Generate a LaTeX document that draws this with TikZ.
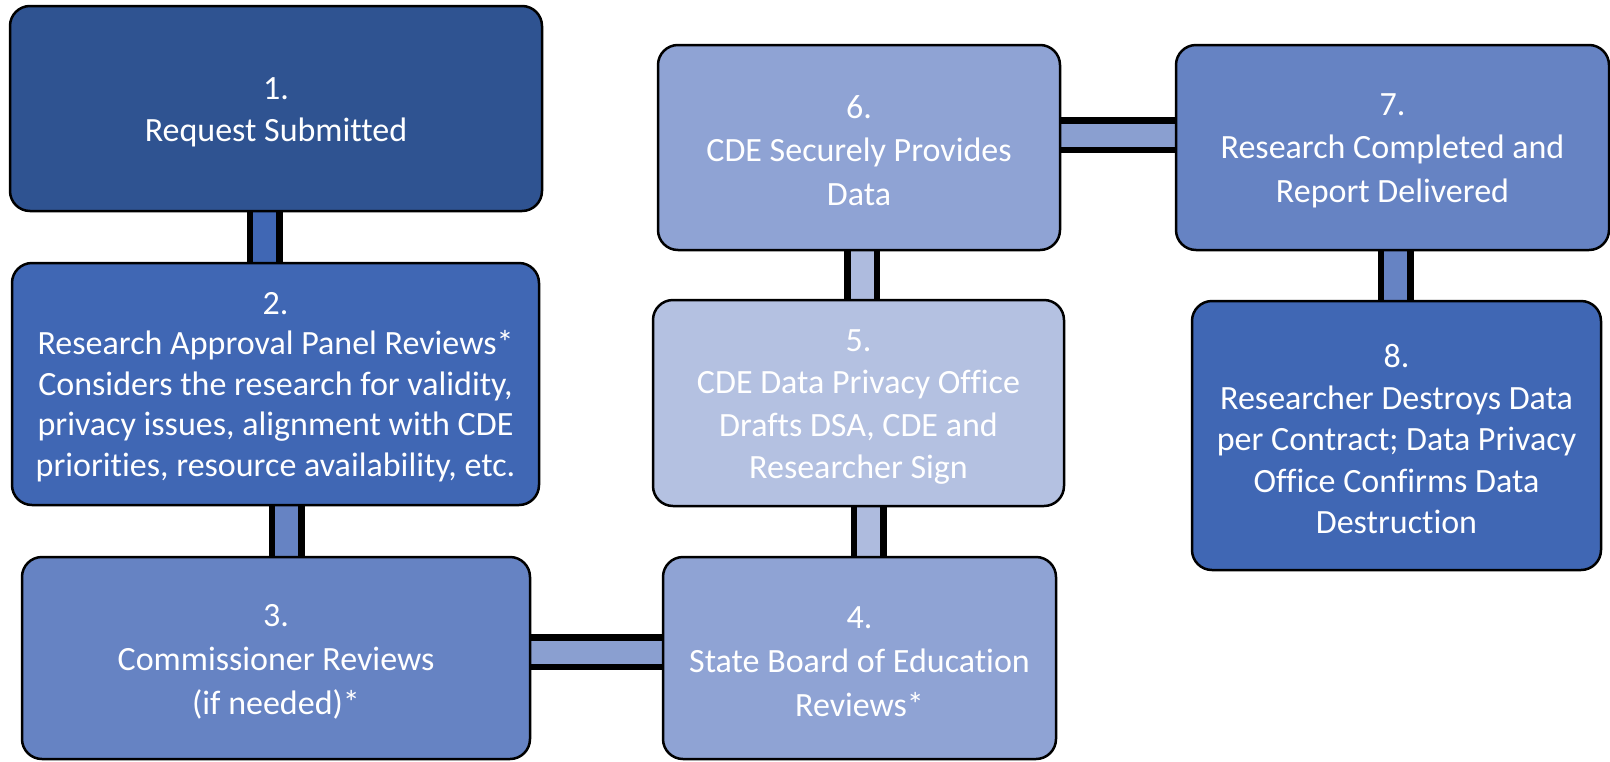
\documentclass[tikz,border=0pt]{standalone}
\usepackage{fontspec}
\setmainfont{Carlito}[Ligatures=NoCommon]
\usetikzlibrary{backgrounds}
\definecolor{cA}{HTML}{2F5391}
\definecolor{cB}{HTML}{4067B4}
\definecolor{cC}{HTML}{6683C3}
\definecolor{cD}{HTML}{8FA3D4}
\definecolor{cE}{HTML}{B4C1E1}
\definecolor{cDc}{HTML}{8A9FD0}
\definecolor{cEc}{HTML}{AEBBDE}
\tikzset{
  box/.style={draw=black, line width=2.5pt, rounded corners=20pt, fill=#1, inner sep=0pt},
  txt/.style={text=white, align=center, inner sep=0pt,
    font=\fontsize{34}{42.5}\selectfont},
  conn/.style={line width=6.5pt, double=#1, double distance=23pt, line cap=butt}
}
\begin{document}
\begin{tikzpicture}[x=1pt, y=-1pt]
\useasboundingbox (0,0) rectangle (1610,761);
\node[box=cA, minimum width=532pt, minimum height=205pt] (b1) at (276,108.5) {};
\node[box=cB, minimum width=527pt, minimum height=242pt] (b2) at (275.5,384) {};
\node[box=cC, minimum width=508pt, minimum height=202pt] (b3) at (276,658) {};
\node[box=cD, minimum width=393pt, minimum height=202pt] (b4) at (859.5,658) {};
\node[box=cE, minimum width=411pt, minimum height=206pt] (b5) at (858.5,403) {};
\node[box=cD, minimum width=402pt, minimum height=205pt] (b6) at (859,147.5) {};
\node[box=cC, minimum width=433pt, minimum height=205pt] (b7) at (1392.5,147.5) {};
\node[box=cB, minimum width=409pt, minimum height=269pt] (b8) at (1396.5,435.5) {};
\node[txt] (t1) at ([yshift=-4pt]b1.center) {1.\\Request Submitted};
\node[txt, font=\fontsize{34}{40.5}\selectfont] (t2) at ([yshift=-3pt]b2.center) {2.\\Research Approval Panel Reviews*\\Considers the research for validity,\\privacy issues, alignment with CDE\\priorities, resource availability, etc.};
\node[txt, font=\fontsize{34}{44}\selectfont] (t3) at ([yshift=-4pt]b3.center) {3.\\Commissioner Reviews\\(if needed)*};
\node[txt, font=\fontsize{34}{44}\selectfont] (t4) at ([yshift=-4pt]b4.center) {4.\\State Board of Education\\Reviews*};
\node[txt] (t5) at ([yshift=-4pt]b5.center) {5.\\CDE Data Privacy Office\\Drafts DSA, CDE and\\Researcher Sign};
\node[txt, font=\fontsize{34}{43.5}\selectfont] (t6) at ([yshift=-3pt]b6.center) {6.\\CDE Securely Provides\\Data};
\node[txt, font=\fontsize{34}{43.5}\selectfont] (t7) at ([yshift=-3pt]b7.center) {7.\\Research Completed and\\Report Delivered};
\node[txt, font=\fontsize{34}{41.5}\selectfont] (t8) at ([yshift=-4pt]b8.center) {8.\\Researcher Destroys Data\\per Contract; Data Privacy\\Office Confirms Data\\Destruction};
\begin{scope}[on background layer]
\draw[conn=cB] ([xshift=-11.5pt]b1.south) -- ([xshift=-11.5pt]b1.south |- b2.north);
\draw[conn=cC] ([xshift=11pt]b2.south) -- ([xshift=11pt]b2.south |- b3.north);
\draw[conn=cDc] ([yshift=6pt]b3.east) -- ([yshift=6pt]b3.east -| b4.west);
\draw[conn=cEc] ([xshift=9pt]b4.north) -- ([xshift=9pt]b4.north |- b5.south);
\draw[conn=cEc] ([xshift=3.5pt]b5.north) -- ([xshift=3.5pt]b5.north |- b6.south);
\draw[conn=cDc] ([yshift=12.5pt]b6.east) -- ([yshift=12.5pt]b6.east -| b7.west);
\draw[conn=cC] ([xshift=3pt]b7.south) -- ([xshift=3pt]b7.south |- b8.north);
\end{scope}
\end{tikzpicture}
\end{document}
